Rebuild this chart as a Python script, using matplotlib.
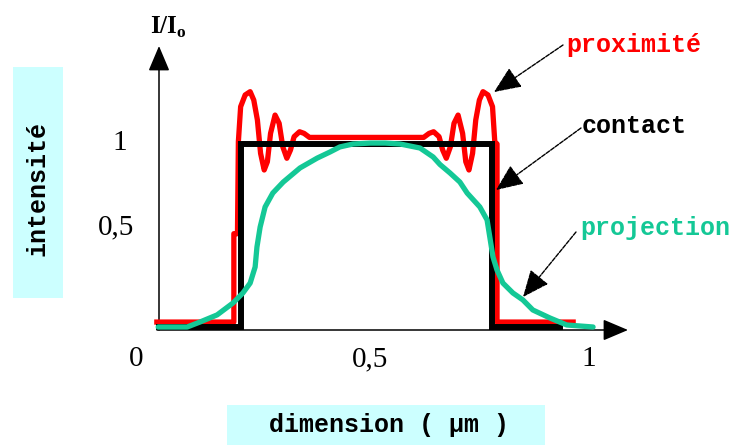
import matplotlib
matplotlib.use("Agg")
import matplotlib.pyplot as plt
from matplotlib.patches import Rectangle

# ---------------- data (x in µm, y in I/Io) ----------------
contact_x = [0.050, 0.232, 0.232, 0.786, 0.786, 0.935]
contact_y = [0.0, 0.0, 1.0, 1.0, 0.0, 0.0]

proxi_x = [0.046, 0.216, 0.216, 0.224, 0.226, 0.231, 0.241, 0.252, 0.260, 0.268,
           0.275, 0.283, 0.290, 0.297, 0.307, 0.316, 0.324, 0.333, 0.341, 0.349,
           0.361, 0.371, 0.383, 0.635, 0.647, 0.657, 0.669, 0.677, 0.685, 0.694,
           0.702, 0.711, 0.721, 0.728, 0.735, 0.743, 0.750, 0.758, 0.766, 0.777,
           0.787, 0.792, 0.797, 0.797, 0.965]
proxi_y = [0.027, 0.027, 0.510, 0.510, 1.013, 1.204, 1.268, 1.286, 1.240, 1.131,
           0.949, 0.858, 0.903, 1.058, 1.158, 1.113, 0.985, 0.922, 0.967, 1.040,
           1.067, 1.058, 1.036, 1.036, 1.058, 1.067, 1.040, 0.967, 0.922, 0.985,
           1.113, 1.158, 1.058, 0.903, 0.858, 0.949, 1.131, 1.240, 1.286, 1.268,
           1.204, 1.013, 1.000, 0.027, 0.027]

proj_x = [0.049, 0.113, 0.141, 0.179, 0.214, 0.236, 0.252, 0.263, 0.267, 0.274,
          0.285, 0.302, 0.325, 0.362, 0.400, 0.428, 0.450, 0.479, 0.517, 0.550,
          0.583, 0.627, 0.656, 0.671, 0.693, 0.715, 0.731, 0.759, 0.775, 0.781,
          0.788, 0.797, 0.810, 0.832, 0.854, 0.876, 0.914, 0.951, 1.009]
proj_y = [0.000, 0.000, 0.027, 0.066, 0.131, 0.186, 0.240, 0.328, 0.437, 0.546,
          0.656, 0.732, 0.792, 0.869, 0.923, 0.956, 0.984, 1.000, 1.005, 1.005,
          1.000, 0.978, 0.929, 0.888, 0.842, 0.792, 0.732, 0.656, 0.585, 0.492,
          0.383, 0.311, 0.240, 0.186, 0.148, 0.093, 0.049, 0.011, 0.000]

xtick_vals = [0, 0.5, 1]
xtick_labels = ["0", "0,5", "1"]
ytick_vals = [0.5, 1]
ytick_labels = ["0,5", "1"]

series_names = ["proximité", "contact", "projection"]
RED, BLACK, GREEN = "#ff0000", "#000000", "#14c896"

# ---------------- layout helpers (pixel -> data) ----------------
W, H = 729, 446
X0, SX = 136.0, 453.0   # pixel of x=0, pixels per µm
Y0, SY = 327.0, 183.0   # pixel of y=0, pixels per unit intensity


def P(px, py):
    return ((px - X0) / SX, (Y0 - py) / SY)


fig = plt.figure(figsize=(W / 100, H / 100), dpi=100)
ax = fig.add_axes([0, 0, 1, 1])
ax.set_xlim(P(0, 0)[0], P(W, 0)[0])
ax.set_ylim(P(0, H)[1], P(0, 0)[1])
ax.axis("off")

# axes with arrows
ax.annotate("", xy=P(159, 46), xytext=P(159, 330),
            arrowprops=dict(arrowstyle="-|>,head_length=1.3,head_width=0.55",
                            mutation_scale=12, color="black", lw=1.1,
                            shrinkA=0, shrinkB=0))
ax.annotate("", xy=P(628, 330), xytext=P(157, 330),
            arrowprops=dict(arrowstyle="-|>,head_length=1.3,head_width=0.55",
                            mutation_scale=12, color="black", lw=1.1,
                            shrinkA=0, shrinkB=0))

# curves
ax.plot(proxi_x, proxi_y, color=RED, lw=3.8, solid_joinstyle="round", zorder=3)
ax.plot(contact_x, contact_y, color=BLACK, lw=4.3, solid_joinstyle="miter", zorder=4)
ax.plot(proj_x, proj_y, color=GREEN, lw=3.8, solid_capstyle="round",
        solid_joinstyle="round", zorder=5)

# tick labels
tick_font = dict(family="Liberation Serif", fontsize=21, color="black",
                 ha="center", va="center")
xtick_px = [136, 370, 589]
for v, lab, pxx in zip(xtick_vals, xtick_labels, xtick_px):
    ax.text(P(pxx, 0)[0], P(0, 359)[1], lab, **tick_font)
ytick_py = [227, 143]
ytick_px = [116, 120]
for v, lab, pyy, pxx in zip(ytick_vals, ytick_labels, ytick_py, ytick_px):
    ax.text(P(pxx, 0)[0], P(0, pyy)[1], lab, **tick_font)

# I/Io
ax.text(*P(168, 27), r"I/I$_\mathregular{o}$", family="Liberation Serif",
        fontweight="bold", fontsize=18, ha="center", va="center")

# labels with arrows
lab_font = dict(family="Liberation Mono", fontweight="bold", fontsize=18,
                ha="center", va="center")
ax.text(*P(634, 45), series_names[0], color=RED, **lab_font)
ax.text(*P(634, 126), series_names[1], color=BLACK, **lab_font)
ax.text(*P(655, 228), series_names[2], color=GREEN, **lab_font)

arrow_kw = dict(arrowstyle="-|>,head_length=1.4,head_width=0.6",
                mutation_scale=12, color="black", lw=1.0, linestyle=(0, (3, 1)),
                shrinkA=0, shrinkB=0)
ax.annotate("", xy=P(494, 92), xytext=P(563, 45), arrowprops=arrow_kw)
ax.annotate("", xy=P(496, 190), xytext=P(581, 128), arrowprops=arrow_kw)
ax.annotate("", xy=P(523, 297), xytext=P(576, 232), arrowprops=arrow_kw)

# cyan boxes with axis titles
box_col = "#ccffff"
x1, y1 = P(13, 298)
x2, y2 = P(63, 67)
ax.add_patch(Rectangle((x1, y1), x2 - x1, y2 - y1, facecolor=box_col,
                       edgecolor="none", zorder=1))
ax.text(*P(38, 189), "intensité", rotation=90, color="black", **lab_font)

x1, y1 = P(227, 445)
x2, y2 = P(545, 405)
ax.add_patch(Rectangle((x1, y1), x2 - x1, y2 - y1, facecolor=box_col,
                       edgecolor="none", zorder=1))
ax.text(*P(389, 425), "dimension ( µm )", color="black", **lab_font)

fig.savefig("out.png", dpi=100)
